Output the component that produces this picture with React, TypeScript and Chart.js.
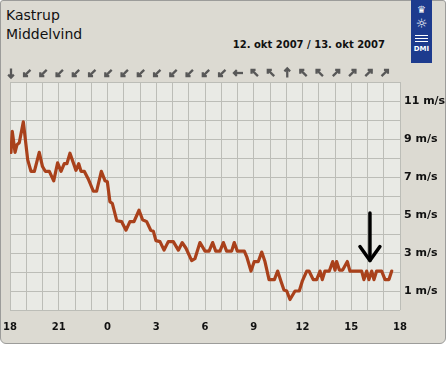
import React, { useEffect, useRef } from 'react';
import { Chart, registerables } from 'chart.js';

Chart.register(...registerables);

// hours after 12 okt 18:00
const hours = [
  0.06, 0.14, 0.31, 0.43, 0.57, 0.82, 1.09, 1.29, 1.5, 1.8, 2.0, 2.17, 2.42, 2.69, 2.93, 3.14, 3.34, 3.5, 3.69,
  4.06, 4.23, 4.37, 4.57, 4.84, 5.13, 5.33, 5.62, 5.85, 5.99, 6.15, 6.3, 6.57, 6.87, 7.14, 7.38, 7.63, 7.94,
  8.16, 8.41, 8.66, 8.82, 8.98, 9.23, 9.48, 9.74, 10.05, 10.36, 10.6, 10.83, 11.18, 11.38, 11.69, 12.0, 12.25,
  12.47, 12.66, 12.92, 13.13, 13.33, 13.64, 13.8, 13.99, 14.42, 14.57, 14.83, 15.03, 15.28, 15.49, 15.69, 15.94,
  16.27, 16.47, 16.68, 16.86, 17.03, 17.23, 17.54, 17.8, 18.0, 18.26, 18.4, 18.66, 18.87, 19.08, 19.22, 19.38,
  19.65, 19.86, 20.0, 20.1, 20.27, 20.47, 20.76, 20.92, 21.64, 21.78, 21.95, 22.09, 22.26, 22.4, 22.56, 22.87,
  23.08, 23.32, 23.49,
];

// mean wind, m/s
const speeds = [
  8.3, 9.4, 8.3, 8.7, 8.8, 9.9, 7.9, 7.3, 7.3, 8.3, 7.55, 7.3, 7.3, 6.8, 7.75, 7.3, 7.7, 7.7, 8.25,
  7.35, 7.7, 7.3, 7.3, 6.85, 6.25, 6.25, 7.3, 6.8, 6.75, 5.7, 5.6, 4.7, 4.65, 4.2, 4.65, 4.65, 5.25,
  4.75, 4.65, 4.2, 4.15, 3.65, 3.6, 3.15, 3.6, 3.6, 3.15, 3.55, 3.25, 2.6, 2.7, 3.55, 3.1, 3.1,
  3.55, 3.1, 3.1, 3.55, 3.1, 3.1, 3.55, 3.1, 3.1, 2.8, 2.05, 2.55, 2.55, 3.05, 2.55, 1.6,
  1.6, 2.05, 1.5, 1.05, 1.0, 0.55, 1.0, 1.0, 1.55, 2.05, 2.05, 1.6, 1.6, 2.05, 1.6, 2.05,
  2.05, 2.55, 2.1, 2.55, 2.1, 2.1, 2.55, 2.05, 2.05, 1.6, 2.05, 1.6, 2.05, 1.6, 2.05, 2.05,
  1.6, 1.6, 2.05,
];

const xTickLabels = ['18', '21', '0', '3', '6', '9', '12', '15', '18'];
const yTickValues = [1, 3, 5, 7, 9, 11];

// direction each hourly wind arrow points to (screen degrees, 0 = up, clockwise)
const windDirs = [
  180, 225, 225, 225, 225, 225, 225, 225, 225, 225, 225, 225, 225, 225,
  270, 315, 315, 0, 315, 315, 45, 45, 45, 45,
];

// hand-drawn pointer annotation (data units)
const pointerHour = 22.15;
const pointerFrom = 5.1;
const pointerTo = 2.6;

const titleLine1 = 'Kastrup';
const titleLine2 = 'Middelvind';
const dateText = '12. okt 2007 / 13. okt 2007';

const bgPlugin = {
  id: 'plotbg',
  beforeDraw(chart: any) {
    const { ctx, chartArea: a } = chart;
    ctx.save();
    ctx.fillStyle = '#e9eae5';
    ctx.fillRect(a.left, a.top, a.right - a.left, a.bottom - a.top);
    ctx.restore();
  },
};

const windPlugin = {
  id: 'windArrows',
  afterDraw(chart: any) {
    const { ctx, chartArea: a, scales } = chart;
    ctx.save();
    ctx.strokeStyle = '#585858';
    ctx.lineWidth = 2.3;
    ctx.lineCap = 'butt';
    ctx.lineJoin = 'miter';
    const cy = a.top - 9;
    windDirs.forEach((deg, i) => {
      const cx = scales.x.getPixelForValue(i) + 1;
      const r = (deg * Math.PI) / 180;
      const dx = Math.sin(r);
      const dy = -Math.cos(r);
      const L = 4.5;
      const tx = cx + dx * L;
      const ty = cy + dy * L;
      ctx.beginPath();
      ctx.moveTo(cx - dx * L, cy - dy * L);
      ctx.lineTo(tx, ty);
      ctx.stroke();
      const h = 4;
      const r1 = r + Math.PI - Math.PI / 4;
      const r2 = r + Math.PI + Math.PI / 4;
      ctx.beginPath();
      ctx.moveTo(tx + Math.sin(r1) * h, ty - Math.cos(r1) * h);
      ctx.lineTo(tx, ty);
      ctx.lineTo(tx + Math.sin(r2) * h, ty - Math.cos(r2) * h);
      ctx.stroke();
    });
    ctx.restore();
  },
};

const pointerPlugin = {
  id: 'pointer',
  afterDatasetsDraw(chart: any) {
    const { ctx, scales } = chart;
    const x = scales.x.getPixelForValue(pointerHour);
    const y1 = scales.y.getPixelForValue(pointerFrom);
    const y2 = scales.y.getPixelForValue(pointerTo);
    ctx.save();
    ctx.strokeStyle = '#000';
    ctx.lineWidth = 3.5;
    ctx.lineCap = 'round';
    ctx.lineJoin = 'round';
    ctx.beginPath();
    ctx.moveTo(x, y1);
    ctx.lineTo(x, y2);
    ctx.stroke();
    ctx.beginPath();
    ctx.moveTo(x - 10, y2 - 14);
    ctx.lineTo(x, y2);
    ctx.lineTo(x + 10, y2 - 14);
    ctx.stroke();
    ctx.restore();
  },
};

export default function App() {
  const ref = useRef<HTMLCanvasElement>(null);

  useEffect(() => {
    const chart = new Chart(ref.current!, {
      type: 'line',
      data: {
        datasets: [
          {
            data: hours.map((h, i) => ({ x: h, y: speeds[i] })),
            borderColor: '#a9411b',
            borderWidth: 3.2,
            pointRadius: 0,
            tension: 0,
            borderJoinStyle: 'round',
            borderCapStyle: 'round',
          },
        ],
      },
      options: {
        animation: false,
        responsive: false,
        layout: { padding: { left: 10, top: 82, right: 0, bottom: 0 } },
        plugins: { legend: { display: false }, tooltip: { enabled: false } },
        scales: {
          x: {
            type: 'linear',
            min: 0,
            max: 24,
            grid: { color: '#bcbdb7', drawTicks: false, lineWidth: 1 },
            border: { display: false },
            ticks: {
              stepSize: 1,
              autoSkip: false,
              maxRotation: 0,
              padding: 11,
              color: '#111',
              font: { family: 'DejaVu Sans', size: 10, weight: 'bold' },
              callback: (v: any) => {
                const n = Math.round(Number(v));
                return n % 3 === 0 ? xTickLabels[n / 3] : '';
              },
            },
            afterFit: (s: any) => {
              s.height = 60;
              s.paddingLeft = 0;
              s.paddingRight = 0;
            },
          },
          y: {
            position: 'right',
            min: 0,
            max: 12,
            grid: { color: '#bcbdb7', drawTicks: false, lineWidth: 1 },
            border: { display: false },
            ticks: {
              stepSize: 1,
              autoSkip: false,
              padding: 4,
              color: '#111',
              font: { family: 'DejaVu Sans', size: 11, weight: 'bold' },
              callback: (v: any) => {
                const n = Math.round(Number(v));
                return yTickValues.includes(n) ? `${n} m/s` : '';
              },
            },
            afterFit: (s: any) => {
              s.width = 47;
              s.paddingTop = 0;
              s.paddingBottom = 0;
            },
          },
        },
      },
      plugins: [bgPlugin, windPlugin, pointerPlugin],
    } as any);
    return () => chart.destroy();
  }, []);

  return (
    <div style={{ position: 'absolute', left: 0, top: 0, width: 447, height: 370, background: '#fff', overflow: 'hidden' }}>
      <div
        style={{
          position: 'absolute',
          left: 0,
          top: 0,
          width: 444,
          height: 342,
          background: '#dcdad2',
          border: '1px solid #9c9c9a',
          borderRadius: '3px 3px 6px 6px',
        }}
      />
      <div
        style={{
          position: 'absolute',
          left: 6,
          top: 8,
          font: '14px "DejaVu Sans"',
          lineHeight: '14px',
          color: '#111',
          whiteSpace: 'nowrap',
        }}
      >
        {titleLine1}
      </div>
      <div
        style={{
          position: 'absolute',
          left: 6,
          top: 27,
          font: '14px "DejaVu Sans"',
          lineHeight: '14px',
          color: '#111',
          whiteSpace: 'nowrap',
        }}
      >
        {titleLine2}
      </div>
      <div
        style={{
          position: 'absolute',
          right: 62,
          top: 40,
          font: 'bold 10px "DejaVu Sans"',
          lineHeight: '10px',
          color: '#111',
          whiteSpace: 'nowrap',
        }}
      >
        {dateText}
      </div>
      <div
        style={{
          position: 'absolute',
          left: 411,
          top: 0,
          width: 21,
          height: 63,
          background: '#1d3b8e',
          color: '#fff',
          textAlign: 'center',
          fontFamily: '"DejaVu Sans"',
        }}
      >
        <div style={{ fontSize: 10, lineHeight: '10px', marginTop: 5 }}>♛</div>
        <div style={{ fontSize: 13, lineHeight: '13px', marginTop: 2 }}>☼</div>
        <div style={{ width: 13, height: 1, background: '#fff', margin: '5px auto 0' }} />
        <div style={{ width: 13, height: 1, background: '#fff', margin: '2px auto 0' }} />
        <div style={{ width: 13, height: 1, background: '#fff', margin: '2px auto 0' }} />
        <div style={{ fontSize: 7, lineHeight: '7px', fontWeight: 'bold', marginTop: 4 }}>DMI</div>
      </div>
      <canvas ref={ref} width={447} height={370} style={{ position: 'absolute', left: 0, top: 0, width: 447, height: 370 }} />
    </div>
  );
}
